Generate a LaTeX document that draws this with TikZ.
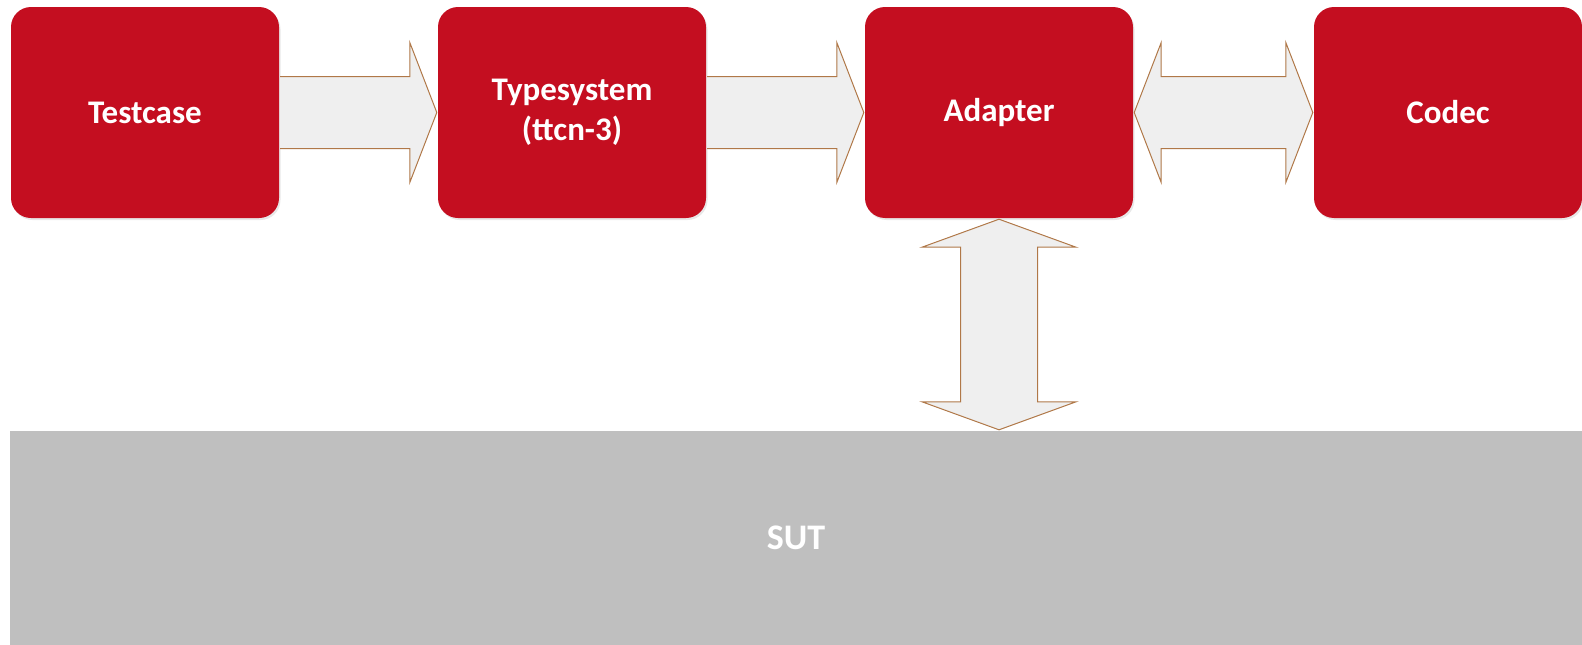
\documentclass[tikz,border=0pt]{standalone}
\usepackage{fontspec}
\setmainfont{Carlito}
\usetikzlibrary{calc,shadows}
\definecolor{boxred}{RGB}{196,14,32}
\definecolor{sutgrey}{RGB}{191,191,191}
\definecolor{arrowfill}{RGB}{239,239,239}
\definecolor{arrowline}{RGB}{176,120,72}
\tikzset{
  redbox/.style={fill=boxred, rounded corners=20pt, inner sep=0pt, align=center,
    text=white, font=\fontsize{33}{40}\selectfont\bfseries,
    drop shadow={opacity=0.18, shadow xshift=1.5pt, shadow yshift=-2pt}},
  sutbox/.style={fill=sutgrey, inner sep=0pt, text=white,
    font=\fontsize{36}{42}\selectfont\bfseries},
  blockarrow/.style={fill=arrowfill, draw=arrowline, line width=1pt, line join=miter}
}
\begin{document}
\begin{tikzpicture}[x=1pt,y=-1pt]
\useasboundingbox (0,0) rectangle (1582,645);
% boxes
\node[redbox, minimum width=268pt, minimum height=211pt] (tc) at (145,112.5) {Testcase};
\node[redbox, minimum width=268pt, minimum height=211pt] (ts) at (572,112.5) {Typesystem\\(ttcn-3)};
\node[redbox, minimum width=268pt, minimum height=211pt] (ad) at (999,112.5) {Adapter};
\node[redbox, minimum width=268pt, minimum height=211pt] (cd) at (1448,112.5) {Codec};
\node[sutbox, minimum width=1572pt, minimum height=214pt] (sut) at (796,538) {SUT};
% arrow Testcase -> Typesystem
\draw[blockarrow] ($(tc.east)+(1,-36)$) -- ($(ts.west)+(-28,-36)$) -- ($(ts.west)+(-28,-70)$)
  -- ($(ts.west)+(-1,0)$) -- ($(ts.west)+(-28,70)$) -- ($(ts.west)+(-28,36)$)
  -- ($(tc.east)+(1,36)$);
% arrow Typesystem -> Adapter
\draw[blockarrow] ($(ts.east)+(1,-36)$) -- ($(ad.west)+(-28,-36)$) -- ($(ad.west)+(-28,-70)$)
  -- ($(ad.west)+(-1,0)$) -- ($(ad.west)+(-28,70)$) -- ($(ad.west)+(-28,36)$)
  -- ($(ts.east)+(1,36)$);
% double arrow Adapter <-> Codec
\draw[blockarrow] ($(ad.east)+(1,0)$) -- ($(ad.east)+(28,-70)$) -- ($(ad.east)+(28,-36)$)
  -- ($(cd.west)+(-28,-36)$) -- ($(cd.west)+(-28,-70)$) -- ($(cd.west)+(-1,0)$)
  -- ($(cd.west)+(-28,70)$) -- ($(cd.west)+(-28,36)$) -- ($(ad.east)+(28,36)$)
  -- ($(ad.east)+(28,70)$) -- cycle;
% double arrow Adapter <-> SUT
\coordinate (vt) at ($(ad.south)+(0,1)$);
\coordinate (vb) at ($(ad.south |- sut.north)+(0,-1)$);
\draw[blockarrow] (vt) -- ($(vt)+(77,28)$) -- ($(vt)+(38.5,28)$)
  -- ($(vb)+(38.5,-28)$) -- ($(vb)+(77,-28)$) -- (vb)
  -- ($(vb)+(-77,-28)$) -- ($(vb)+(-38.5,-28)$) -- ($(vt)+(-38.5,28)$)
  -- ($(vt)+(-77,28)$) -- cycle;
\end{tikzpicture}
\end{document}
